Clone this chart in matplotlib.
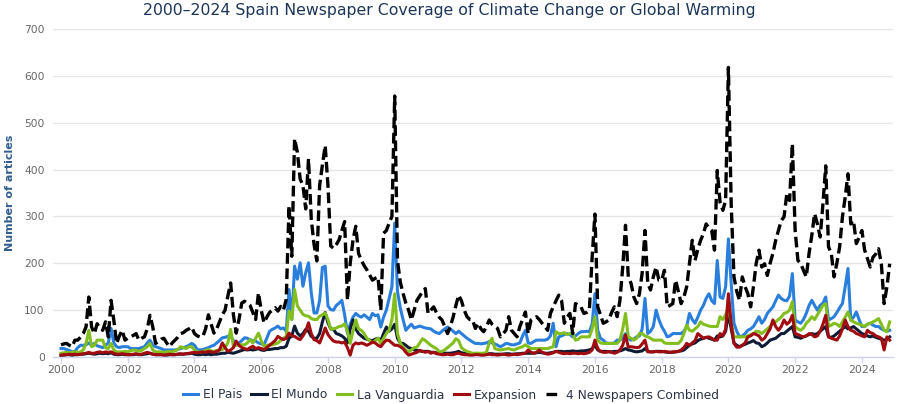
import numpy as np
import matplotlib
matplotlib.use("Agg")
import matplotlib.pyplot as plt

# ---------------- data (monthly, Jan 2000 - Nov 2024) ----------------
start_year = 2000
series_names = ["El Pais", "El Mundo", "La Vanguardia", "Expansion", "4 Newspapers Combined"]

el_pais = [
    18, 18, 16, 14, 11, 12, 20, 25, 25, 26, 30, 25,      # 2000
    29, 24, 22, 20, 25, 30, 61, 30, 22, 20, 22, 22,      # 2001
    22, 18, 18, 18, 18, 20, 22, 30, 36, 25, 22, 20,      # 2002
    18, 15, 15, 15, 15, 15, 16, 18, 20, 22, 25, 29,      # 2003
    25, 16, 15, 16, 18, 20, 23, 25, 30, 35, 41, 42,      # 2004
    44, 44, 35, 26, 30, 35, 41, 40, 37, 35, 34, 30,      # 2005
    28, 26, 40, 55, 59, 62, 66, 60, 62, 55, 144, 80,     # 2006
    194, 166, 201, 151, 180, 201, 137, 94, 94, 120, 191, 194,  # 2007
    109, 101, 100, 110, 115, 121, 90, 50, 70, 85, 93, 88,      # 2008
    85, 90, 85, 80, 93, 88, 90, 64, 85, 100, 125, 150,   # 2009
    286, 140, 105, 80, 57, 64, 70, 62, 64, 66, 64, 62,   # 2010
    61, 60, 55, 52, 50, 55, 60, 64, 60, 55, 50, 55,      # 2011
    50, 45, 40, 36, 32, 29, 29, 28, 29, 30, 33, 30,      # 2012
    28, 25, 22, 25, 29, 28, 26, 26, 28, 30, 45, 57,      # 2013
    30, 29, 33, 36, 36, 36, 36, 38, 45, 72, 22, 43,      # 2014
    45, 48, 50, 48, 43, 45, 50, 54, 54, 55, 54, 70,      # 2015
    135, 57, 40, 36, 30, 29, 29, 30, 36, 36, 40, 50,     # 2016
    40, 36, 38, 43, 45, 60, 125, 50, 55, 65, 100, 80,    # 2017
    65, 55, 43, 45, 50, 50, 50, 50, 55, 65, 93, 80,      # 2018
    72, 85, 100, 110, 125, 135, 120, 114, 206, 128, 125, 150,  # 2019
    252, 157, 72, 55, 43, 45, 50, 57, 60, 65, 75, 86,    # 2020
    72, 80, 93, 100, 107, 120, 132, 125, 121, 120, 130, 178,   # 2021
    79, 75, 72, 80, 93, 110, 121, 110, 100, 110, 115, 128,     # 2022
    79, 82, 86, 95, 105, 114, 150, 189, 79, 85, 96, 80,  # 2023
    65, 65, 70, 72, 68, 65, 65, 60, 57, 55, 57,          # 2024
]

el_mundo = [
    4, 4, 5, 5, 4, 5, 5, 6, 6, 7, 8, 7,
    6, 7, 8, 7, 8, 7, 9, 6, 5, 5, 6, 5,
    5, 5, 5, 6, 5, 5, 6, 7, 8, 6, 5, 5,
    5, 5, 4, 5, 5, 5, 6, 6, 6, 7, 7, 8,
    6, 5, 5, 6, 5, 6, 5, 6, 6, 7, 8, 8,
    10, 9, 8, 10, 12, 14, 16, 15, 16, 15, 16, 18,
    15, 14, 16, 16, 17, 18, 18, 20, 20, 23, 40, 45,
    66, 51, 45, 50, 59, 55, 44, 40, 40, 50, 75, 95,
    73, 60, 59, 50, 48, 45, 40, 30, 60, 79, 60, 50,
    45, 40, 38, 36, 35, 38, 40, 35, 50, 64, 55, 60,
    70, 40, 30, 29, 25, 20, 18, 15, 14, 13, 12, 12,
    12, 10, 10, 9, 8, 8, 8, 8, 8, 9, 10, 12,
    9, 8, 7, 7, 6, 6, 6, 6, 6, 6, 7, 7,
    6, 6, 6, 6, 7, 7, 6, 6, 7, 7, 8, 8,
    8, 8, 8, 9, 10, 9, 8, 8, 9, 10, 12, 12,
    12, 11, 12, 12, 13, 12, 12, 13, 13, 14, 15, 18,
    25, 15, 12, 12, 12, 11, 11, 12, 12, 13, 15, 18,
    15, 14, 12, 11, 12, 13, 18, 12, 11, 11, 12, 12,
    12, 11, 10, 10, 10, 11, 12, 13, 15, 20, 25, 28,
    30, 35, 38, 40, 42, 40, 38, 36, 45, 43, 45, 55,
    93, 60, 30, 25, 22, 25, 27, 30, 32, 35, 30, 29,
    22, 25, 30, 36, 38, 40, 45, 50, 50, 55, 60, 65,
    43, 42, 40, 43, 45, 48, 50, 48, 50, 55, 60, 65,
    43, 42, 45, 50, 55, 60, 65, 60, 62, 65, 60, 55,
    50, 48, 45, 43, 45, 42, 40, 38, 36, 38, 43,
]

la_vanguardia = [
    8, 9, 10, 9, 10, 11, 10, 11, 15, 29, 57, 22,
    25, 36, 36, 36, 20, 18, 29, 15, 11, 11, 11, 12,
    11, 13, 15, 14, 12, 14, 18, 22, 29, 15, 11, 11,
    11, 10, 11, 12, 11, 13, 16, 22, 20, 18, 22, 22,
    15, 11, 10, 12, 14, 16, 13, 12, 14, 15, 16, 20,
    30, 59, 23, 25, 26, 26, 26, 30, 37, 30, 40, 51,
    35, 23, 25, 26, 26, 28, 30, 35, 40, 44, 98, 80,
    144, 109, 100, 91, 88, 87, 82, 80, 80, 87, 90, 94,
    80, 59, 60, 62, 65, 66, 71, 55, 29, 55, 79, 60,
    57, 50, 40, 35, 30, 35, 40, 29, 40, 50, 57, 80,
    135, 50, 30, 21, 15, 11, 15, 20, 21, 30, 39, 35,
    30, 25, 21, 18, 11, 12, 15, 20, 25, 30, 39, 35,
    20, 15, 12, 10, 8, 8, 8, 8, 8, 10, 30, 40,
    18, 16, 15, 16, 17, 18, 16, 15, 18, 20, 22, 26,
    22, 18, 18, 18, 18, 18, 18, 18, 20, 22, 54, 50,
    50, 52, 48, 50, 50, 36, 38, 43, 43, 43, 43, 60,
    86, 36, 30, 29, 29, 29, 29, 29, 29, 36, 60, 93,
    43, 40, 36, 40, 50, 50, 45, 43, 40, 36, 36, 36,
    36, 30, 29, 29, 29, 29, 29, 35, 50, 68, 57, 55,
    60, 65, 75, 70, 68, 66, 65, 65, 65, 86, 80, 90,
    107, 72, 43, 43, 43, 43, 43, 45, 48, 50, 55, 54,
    50, 55, 60, 65, 72, 75, 80, 85, 93, 95, 100, 118,
    65, 60, 57, 62, 72, 78, 86, 80, 90, 100, 110, 114,
    65, 68, 72, 70, 65, 75, 85, 96, 79, 75, 72, 70,
    68, 65, 70, 72, 75, 78, 82, 70, 57, 54, 75,
]

expansion = [
    4, 5, 5, 6, 5, 6, 5, 6, 7, 8, 10, 8,
    8, 10, 11, 9, 11, 10, 11, 8, 6, 6, 7, 6,
    5, 5, 6, 7, 5, 6, 8, 10, 8, 6, 5, 5,
    5, 4, 5, 6, 5, 5, 6, 7, 6, 7, 8, 9,
    10, 9, 10, 11, 10, 12, 11, 10, 12, 15, 30, 20,
    12, 15, 20, 34, 25, 20, 18, 16, 20, 23, 18, 20,
    18, 16, 20, 25, 30, 35, 44, 40, 37, 40, 51, 45,
    44, 40, 37, 45, 55, 73, 50, 37, 35, 30, 45, 62,
    48, 40, 34, 32, 32, 30, 32, 20, 4, 25, 30, 28,
    30, 28, 25, 28, 32, 30, 25, 22, 30, 36, 35, 30,
    25, 25, 22, 18, 10, 4, 6, 8, 10, 14, 12, 10,
    12, 8, 10, 7, 6, 5, 5, 6, 5, 5, 7, 8,
    6, 5, 5, 4, 4, 5, 5, 4, 4, 5, 6, 5,
    5, 4, 5, 6, 5, 4, 5, 6, 5, 6, 7, 8,
    15, 10, 8, 10, 15, 10, 8, 6, 7, 9, 12, 10,
    8, 7, 8, 7, 8, 8, 7, 8, 7, 8, 10, 15,
    36, 18, 12, 10, 10, 12, 10, 8, 10, 15, 25, 47,
    21, 22, 21, 20, 21, 28, 36, 11, 11, 11, 12, 11,
    11, 12, 11, 10, 11, 11, 12, 15, 20, 29, 25, 30,
    35, 50, 45, 40, 42, 43, 40, 36, 36, 50, 45, 60,
    135, 72, 29, 21, 21, 25, 30, 43, 45, 50, 48, 45,
    36, 40, 50, 60, 79, 65, 57, 65, 79, 70, 75, 89,
    50, 48, 45, 43, 45, 50, 48, 43, 45, 55, 70, 89,
    43, 40, 38, 36, 45, 60, 79, 65, 57, 55, 50, 48,
    45, 43, 57, 52, 50, 45, 43, 40, 15, 43, 36,
]

combined = [
    26, 28, 29, 25, 22, 36, 36, 42, 50, 64, 128, 64,
    50, 71, 62, 57, 75, 43, 121, 78, 29, 45, 57, 36,
    40, 43, 46, 50, 36, 40, 43, 60, 89, 64, 29, 33,
    38, 40, 30, 22, 30, 36, 42, 50, 52, 57, 60, 64,
    50, 45, 43, 44, 60, 90, 70, 51, 60, 75, 90, 100,
    130, 158, 90, 51, 80, 115, 119, 115, 110, 95, 80, 137,
    100, 73, 85, 95, 100, 105, 98, 108, 100, 123, 323, 215,
    466, 437, 380, 366, 316, 423, 294, 240, 205, 366, 410, 451,
    366, 237, 232, 240, 250, 270, 289, 121, 200, 250, 279, 221,
    207, 195, 186, 175, 164, 168, 171, 100, 264, 270, 286, 300,
    557, 206, 160, 136, 115, 100, 79, 100, 121, 130, 140, 146,
    93, 100, 107, 95, 85, 79, 65, 50, 65, 85, 110, 132,
    120, 100, 86, 80, 79, 61, 72, 60, 54, 65, 79, 70,
    65, 61, 43, 50, 57, 86, 57, 50, 43, 65, 80, 96,
    50, 79, 82, 86, 80, 72, 65, 57, 93, 107, 120, 132,
    121, 72, 85, 93, 50, 114, 110, 107, 93, 95, 100, 213,
    305, 107, 90, 72, 75, 79, 95, 107, 86, 121, 192, 281,
    171, 157, 128, 114, 135, 180, 270, 157, 143, 171, 192, 164,
    164, 185, 107, 110, 114, 164, 140, 114, 128, 150, 200, 249,
    206, 230, 249, 263, 284, 275, 270, 228, 398, 330, 313, 334,
    618, 327, 171, 140, 121, 171, 150, 135, 107, 150, 200, 228,
    192, 199, 174, 200, 221, 249, 270, 291, 299, 348, 334, 455,
    270, 206, 199, 185, 171, 221, 260, 306, 284, 256, 327, 408,
    235, 221, 171, 200, 235, 299, 341, 391, 284, 291, 242, 255,
    270, 228, 210, 192, 213, 220, 231, 199, 114, 150, 199,
]

x_tick_years = list(range(2000, 2025, 2))
y_ticks = [0, 100, 200, 300, 400, 500, 600, 700]

# ---------------- styling ----------------
colors = ["#2a7fdc", "#0d1b35", "#82be1e", "#a00c10", "#000000"]

W, H = 900, 404
fig = plt.figure(figsize=(W / 100, H / 100), dpi=100)
fig.patch.set_facecolor("white")
ax = fig.add_axes([53 / W, 1 - 357 / H, 840 / W, 328 / H])

all_series = [el_pais, el_mundo, la_vanguardia, expansion, combined]
n = len(combined)
x = start_year + np.arange(n) / 12.0

for name, vals, c in zip(series_names, all_series, colors):
    if name.startswith("4 "):
        ax.plot(x, vals, color=c, lw=2.4, ls=(0, (3.2, 1.4)), label=name,
                solid_capstyle="butt", dash_capstyle="butt", zorder=5)
    else:
        ax.plot(x, vals, color=c, lw=2.2, label=name, solid_joinstyle="round", zorder=3)

ax.set_xlim(start_year - 8 / 33.37, start_year + 832 / 33.37)
ax.set_ylim(0, 700)
ax.set_yticks(y_ticks)
ax.set_xticks(x_tick_years)
ax.set_xticklabels([str(v) for v in x_tick_years])

ax.grid(axis="y", color="#e6e6e6", lw=1.0)
ax.set_axisbelow(True)
for s in ["top", "right", "left"]:
    ax.spines[s].set_visible(False)
ax.spines["bottom"].set_color("#ccd6eb")
ax.spines["bottom"].set_linewidth(1.0)
ax.tick_params(axis="x", direction="out", length=4, width=1, color="#ccd6eb",
               labelcolor="#666666", labelsize=7.8, pad=2)
ax.tick_params(axis="y", length=0, labelcolor="#666666", labelsize=7.7, pad=6)

fig.text(10 / W, 1 - 193 / H, "Number of articles", rotation=90, ha="center", va="center",
         fontsize=8, fontweight="bold", color="#2f5d8f")
fig.text(449 / W, 1 - 11 / H,
         "2000\u20132024 Spain Newspaper Coverage of Climate Change or Global Warming",
         ha="center", va="center", fontsize=11.3, color="#1c3558")

leg = fig.legend(loc="center", bbox_to_anchor=(451 / W, 1 - 395 / H), ncol=5, frameon=False,
                 fontsize=8.8, handlelength=1.25, handletextpad=0.4, columnspacing=0.75,
                 borderaxespad=0, borderpad=0)
for t in leg.get_texts():
    t.set_color("#2b3445")

fig.savefig("out.png", dpi=100, facecolor="white")
